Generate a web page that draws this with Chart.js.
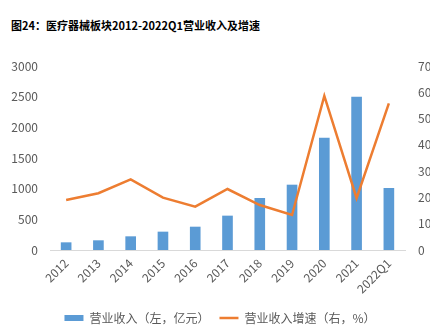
<!DOCTYPE html>
<html>
<head>
<meta charset="utf-8">
<script src="https://cdn.jsdelivr.net/npm/chart.js@4/dist/chart.umd.min.js"></script>
<style>
html,body{margin:0;padding:0;width:430px;height:334px;overflow:hidden;background:#fff;}
#wrap{position:relative;width:440px;height:334px;}
#title{position:absolute;left:11px;top:17px;font-family:"Noto Sans CJK SC","Noto Sans",sans-serif;font-weight:bold;font-size:11px;color:#000;white-space:nowrap;line-height:16px;}
canvas{position:absolute;left:0;top:0;}
</style>
</head>
<body>
<div id="wrap">
<div id="title">图24：医疗器械板块2012-2022Q1营业收入及增速</div>
<canvas id="c" width="440" height="334"></canvas>
</div>
<script>
const categories = ["2012","2013","2014","2015","2016","2017","2018","2019","2020","2021","2022Q1"];
const revenue = [125, 158, 223, 299, 380, 560, 848, 1065, 1832, 2500, 1011];
const growth = [19.0, 21.6, 26.9, 19.9, 16.5, 23.2, 17.1, 13.3, 58.6, 19.7, 55.8];
const revenueLabel = "营业收入（左，亿元）";
const growthLabel = "营业收入增速（右，%）";
const leftTicks = [0, 500, 1000, 1500, 2000, 2500, 3000];
const rightTicks = [0, 10, 20, 30, 40, 50, 60, 70];

const FONT = '"Noto Sans CJK SC","Noto Sans",sans-serif';
const GRAY = '#595959';

new Chart(document.getElementById('c'), {
  data: {
    labels: categories,
    datasets: [
      {
        type: 'line',
        label: growthLabel,
        data: growth,
        yAxisID: 'y1',
        borderColor: '#ed7d31',
        backgroundColor: '#ed7d31',
        borderWidth: 2.5,
        pointRadius: 0,
        pointStyle: 'line',
        tension: 0,
        order: 0
      },
      {
        type: 'bar',
        label: revenueLabel,
        data: revenue,
        yAxisID: 'y',
        backgroundColor: '#5b9bd5',
        borderWidth: 0,
        barPercentage: 0.33,
        categoryPercentage: 1,
        pointStyle: 'rect',
        order: 1
      }
    ]
  },
  options: {
    responsive: false,
    animation: false,
    layout: { padding: { top: 66, bottom: 0, left: 0, right: 0 } },
    plugins: {
      title: { display: false },
      tooltip: { enabled: false },
      legend: {
        position: 'bottom',
        reverse: true,
        labels: {
          usePointStyle: true,
          pointStyleWidth: 19,
          boxWidth: 19,
          boxHeight: 6,
          padding: 10,
          color: GRAY,
          font: { family: FONT, size: 12 }
        }
      }
    },
    scales: {
      x: {
        grid: { display: false, drawTicks: false },
        border: { display: true, color: '#d9d9d9', width: 1 },
        ticks: {
          color: GRAY,
          font: { family: FONT, size: 12 },
          minRotation: 45,
          maxRotation: 45,
          padding: 6,
          autoSkip: false
        },
        afterFit(s) { s.height = 52; }
      },
      y: {
        position: 'left',
        min: 0, max: 3000,
        afterBuildTicks(s) { s.ticks = leftTicks.map(v => ({ value: v })); },
        grid: { display: false, drawTicks: false },
        border: { display: false },
        ticks: { color: GRAY, font: { family: FONT, size: 12 }, padding: 12, callback: v => String(v) },
        afterFit(s) { s.width = 50; }
      },
      y1: {
        position: 'right',
        min: 0, max: 70,
        afterBuildTicks(s) { s.ticks = rightTicks.map(v => ({ value: v })); },
        grid: { display: false, drawTicks: false },
        border: { display: false },
        ticks: { color: GRAY, font: { family: FONT, size: 12 }, padding: 13, callback: v => String(v) },
        afterFit(s) { s.width = 35; }
      }
    }
  }
});
</script>
</body>
</html>
